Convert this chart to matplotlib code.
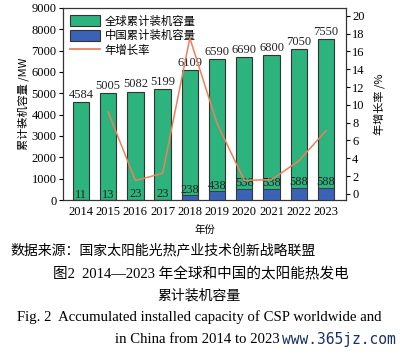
import matplotlib
matplotlib.use("Agg")
import matplotlib.pyplot as plt
import numpy as np
from matplotlib.patches import Patch
from matplotlib.lines import Line2D

years = ['2014', '2015', '2016', '2017', '2018', '2019', '2020', '2021', '2022', '2023']
world = [4584, 5005, 5082, 5199, 6109, 6590, 6690, 6800, 7050, 7550]
china = [11, 13, 23, 23, 238, 438, 538, 538, 588, 588]
growth_years = ['2015', '2016', '2017', '2018', '2019', '2020', '2021', '2022', '2023']
growth = [9.2, 1.5, 2.3, 17.5, 7.9, 1.5, 1.6, 3.7, 7.1]

SERIF = ['Liberation Serif', 'Noto Sans CJK SC']
CJK = ['Noto Sans CJK SC', 'DejaVu Sans']
plt.rcParams['font.family'] = SERIF

GREEN = '#2db47e'
BLUE = '#3b63b5'
ORANGE = '#ef7f5c'

fig = plt.figure(figsize=(4.06, 3.56), dpi=100)
ax = fig.add_axes([0.155, 0.438, 0.697, 0.54])

x = np.arange(len(years))
ax.bar(x, world, width=0.6, color=GREEN, edgecolor='#333333', linewidth=0.8, zorder=2)
ax.bar(x, china, width=0.6, color=BLUE, edgecolor='#333333', linewidth=0.6, zorder=3)

for i in range(len(years)):
    ax.text(x[i], world[i] + 50, str(world[i]), ha='center', va='bottom', fontsize=9, color='#222222')
    ax.text(x[i], china[i] - 40, str(china[i]), ha='center', va='bottom', fontsize=9, color='#222222', zorder=5)

ax.set_xlim(-0.66, 9.73)
ax.set_ylim(0, 9000)
ax.set_yticks(np.arange(0, 9001, 1000))
ax.set_xticks(x)
ax.set_xticklabels(years)
ax.tick_params(axis='x', length=0, labelsize=9, pad=4)
ax.tick_params(axis='y', direction='out', length=3, labelsize=9, pad=1.5)
ax.set_xlabel('年份', family=CJK, fontsize=7.5, labelpad=5)
ax.set_ylabel('累计装机容量 /MW', family=CJK, fontsize=8, labelpad=2)

ax2 = ax.twinx()
gx = [years.index(y) for y in growth_years]
ax2.plot(gx, growth, color=ORANGE, linewidth=1.1, zorder=4)
ax2.set_ylim(-0.7, 20.9)
ax2.set_yticks(np.arange(0, 21, 2))
ax2.tick_params(axis='y', direction='out', length=3, labelsize=9, pad=1.5)
ax2.set_ylabel('年增长率 /%', family=CJK, fontsize=8, labelpad=6)

for a in (ax, ax2):
    for s in a.spines.values():
        s.set_linewidth(0.8)
        s.set_color('#333333')

handles = [Patch(facecolor=GREEN, edgecolor='#333333', linewidth=0.8),
           Patch(facecolor=BLUE, edgecolor='#333333', linewidth=0.8),
           Line2D([0], [0], color=ORANGE, linewidth=1.3)]
ax.legend(handles, ['全球累计装机容量', '中国累计装机容量', '年增长率'],
          loc='upper left', frameon=False, prop={'family': CJK, 'size': 8.2},
          handlelength=2.6, handleheight=1.1, borderaxespad=0.25, labelspacing=0.3,
          handletextpad=0.4, bbox_to_anchor=(0.0, 1.0))

# captions
fig.text(0.025, 0.298, '数据来源：国家太阳能光热产业技术创新战略联盟', family=CJK, fontsize=10, va='center')
fig.text(0.495, 0.230, '图2  2014—2023 年全球和中国的太阳能热发电', family=SERIF, fontsize=10.5,
         ha='center', va='center')
fig.text(0.49, 0.171, '累计装机容量', family=CJK, fontsize=10, ha='center', va='center')
fig.text(0.49, 0.110, 'Fig. 2  Accumulated installed capacity of CSP worldwide and',
         family=SERIF, fontsize=10.6, ha='center', va='center')
fig.text(0.69, 0.045, 'in China from 2014 to 2023', family=SERIF, fontsize=10.6, ha='right', va='center')
fig.text(0.695, 0.045, 'www.365jz.com', family=['DejaVu Sans Mono'], fontsize=10.5,
         ha='left', va='center', color='#1a2f6e')

fig.savefig('out.png', dpi=100)
